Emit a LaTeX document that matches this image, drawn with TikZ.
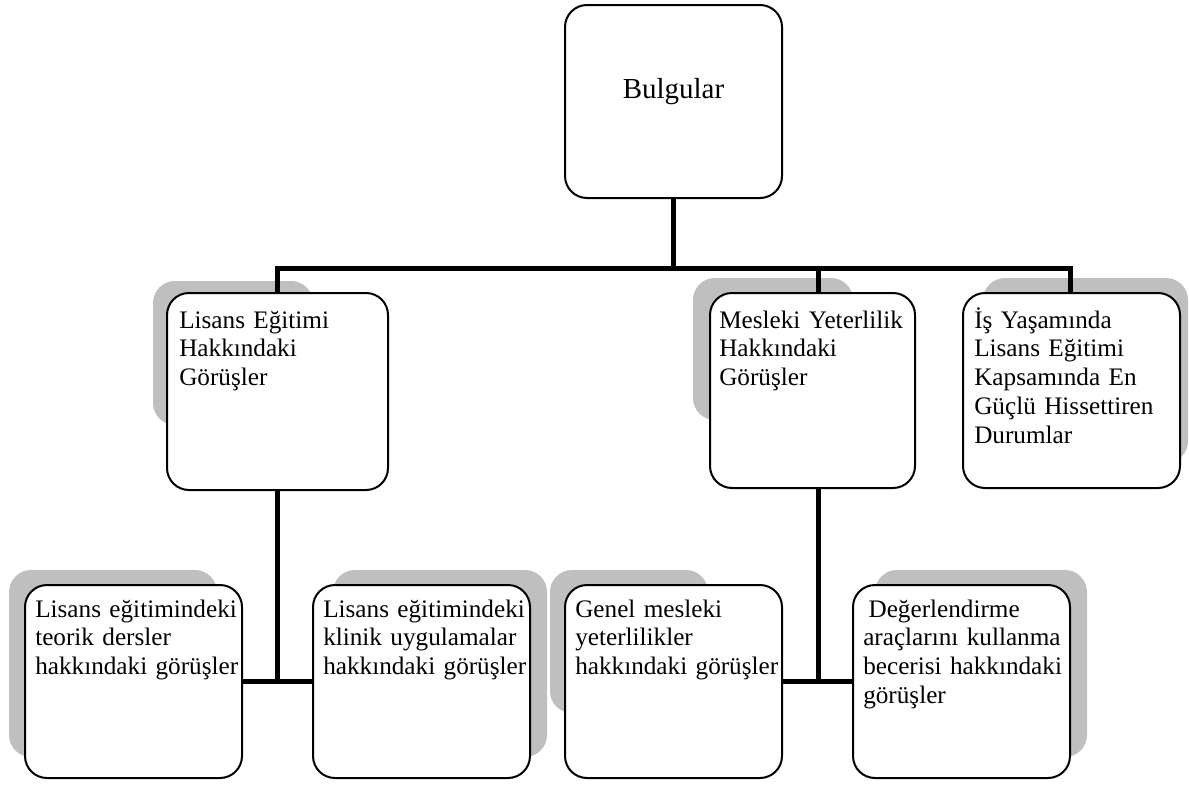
\documentclass[tikz,border=0pt]{standalone}
\usepackage{fontspec}
\setmainfont{Liberation Serif}
\pgfdeclarelayer{shadowlayer}
\pgfdeclarelayer{connlayer}
\pgfsetlayers{shadowlayer,connlayer,main}
\definecolor{shadowgray}{HTML}{BFBFBF}
\tikzset{
  bx/.style={draw=black, line width=1.5pt, fill=white, rounded corners=16.5pt, inner sep=0pt},
  shd/.style={fill=shadowgray, rounded corners=16.5pt},
  conn/.style={line width=3.75pt, line cap=butt},
  txt/.style={anchor=base west, inner sep=0pt, align=left, text width=170pt,
    font=\fontsize{18.9pt}{21.7pt}\selectfont},
  roottxt/.style={font=\fontsize{21.75pt}{24pt}\selectfont, inner sep=0pt, anchor=base}
}
\begin{document}
\begin{tikzpicture}[x=0.75pt, y=-0.75pt]
\useasboundingbox (0,0) rectangle (1189,785);

% boxes
\node[bx, minimum width=217*0.75pt, minimum height=193*0.75pt] (root) at (673.5,101.5) {};
\node[bx, minimum width=221*0.75pt, minimum height=197*0.75pt] (A) at (277.5,391.5) {};
\node[bx, minimum width=205*0.75pt, minimum height=195*0.75pt] (M) at (812.5,390.5) {};
\node[bx, minimum width=217*0.75pt, minimum height=195*0.75pt] (I) at (1071.5,390.5) {};
\node[bx, minimum width=217*0.75pt, minimum height=193*0.75pt] (B1) at (133.5,681.5) {};
\node[bx, minimum width=217*0.75pt, minimum height=193*0.75pt] (B2) at (421.5,681.5) {};
\node[bx, minimum width=217*0.75pt, minimum height=193*0.75pt] (B3) at (673.5,681.5) {};
\node[bx, minimum width=217*0.75pt, minimum height=193*0.75pt] (B4) at (961.5,681.5) {};

% texts
\node[roottxt] (rt) at (673.5,98) {Bulgular};
\node[txt] (At) at ([xshift=9.75pt,yshift=-27pt]A.north west) {Lisans Eğitimi\\Hakkındaki\\Görüşler};
\node[txt] (Mt) at ([xshift=7.5pt,yshift=-27pt]M.north west) {Mesleki Yeterlilik\\Hakkındaki\\Görüşler};
\node[txt] (It) at ([xshift=9pt,yshift=-27pt]I.north west) {İş Yaşamında\\Lisans Eğitimi\\Kapsamında En\\Güçlü Hissettiren\\Durumlar};
\node[txt] (B1t) at ([xshift=8.25pt,yshift=-24.75pt]B1.north west) {Lisans eğitimindeki\\teorik dersler\\hakkındaki görüşler};
\node[txt] (B2t) at ([xshift=8.25pt,yshift=-24.75pt]B2.north west) {Lisans eğitimindeki\\klinik uygulamalar\\hakkındaki görüşler};
\node[txt] (B3t) at ([xshift=8.25pt,yshift=-24.75pt]B3.north west) {Genel mesleki\\yeterlilikler\\hakkındaki görüşler};
\node[txt] (B4t) at ([xshift=8.25pt,yshift=-24.75pt]B4.north west) {\hspace{4pt}Değerlendirme\\araçlarını kullanma\\becerisi hakkındaki\\görüşler};

% background and shadows
\begin{pgfonlayer}{shadowlayer}
\fill[white] (0,0) rectangle (1189,785);
\fill[shd] (153,281) rectangle (313,425);
\fill[shd] (693,278) rectangle (853,420);
\fill[shd] (983,278) rectangle (1188,463);
\fill[shd] (9,570) rectangle (217,757);
\fill[shd] (333,570) rectangle (547,757);
\fill[shd] (550,570) rectangle (708,713);
\fill[shd] (875,570) rectangle (1087,757);
\end{pgfonlayer}

% connectors
\coordinate (barL) at (277,268);
\coordinate (jM) at (818,268);
\coordinate (barR) at (1070,268);
\begin{pgfonlayer}{connlayer}
\draw[conn] (root.south) -- (root.south |- barL);
\draw[conn] ([xshift=-1.4pt]barL) -- ([xshift=1.4pt]barR);
\draw[conn] ([yshift=1.4pt]barL) -- (barL |- A.north);
\draw[conn] (jM) -- (jM |- M.north);
\draw[conn] ([yshift=1.4pt]barR) -- (barR |- I.north);
\draw[conn] (A.south) -- (A.south |- B1.east);
\draw[conn] (B1.east) -- (B2.west);
\draw[conn] (jM |- M.south) -- (jM |- B3.east);
\draw[conn] (B3.east) -- (B4.west);
\end{pgfonlayer}
\end{tikzpicture}
\end{document}
